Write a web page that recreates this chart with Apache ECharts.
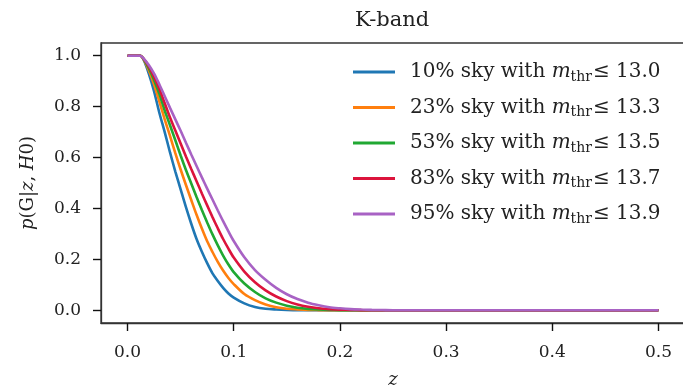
<!DOCTYPE html>
<html>
<head>
<meta charset="utf-8">
<script src="https://cdn.jsdelivr.net/npm/echarts@6/dist/echarts.min.js"></script>
<style>
  html, body { margin: 0; padding: 0; background: #fff; }
  #chart { width: 683px; height: 389px; }
</style>
</head>
<body>
<div id="chart"></div>
<script>
// redshift grid shared by all curves
const zValues = [0, 0.01, 0.012, 0.015, 0.02, 0.025, 0.03, 0.035, 0.04, 0.045, 0.05, 0.055, 0.06, 0.065, 0.07, 0.075, 0.08, 0.085, 0.09, 0.095, 0.1,
  0.11, 0.12, 0.13, 0.14, 0.15, 0.16, 0.17, 0.18, 0.19, 0.2, 0.21, 0.22, 0.23, 0.24, 0.25, 0.5]

// p(G|z,H0), one list per sky fraction
const p10 = [1, 1, 1, 0.985, 0.93, 0.86, 0.775, 0.70, 0.62, 0.545, 0.475, 0.405, 0.34, 0.28, 0.23, 0.185, 0.145, 0.115, 0.088, 0.066, 0.05,
  0.027, 0.013, 0.006, 0.003, 0.001, 0, 0, 0, 0, 0, 0, 0, 0, 0, 0, 0]
const p23 = [1, 1, 1, 0.987, 0.943, 0.887, 0.82, 0.75, 0.685, 0.617, 0.553, 0.492, 0.433, 0.375, 0.321, 0.271, 0.229, 0.19, 0.156, 0.127, 0.103,
  0.064, 0.04, 0.023, 0.012, 0.006, 0.0035, 0.0016, 0.0007, 0, 0, 0, 0, 0, 0, 0, 0]
const p53 = [1, 1, 1, 0.988, 0.951, 0.904, 0.849, 0.785, 0.727, 0.668, 0.608, 0.551, 0.498, 0.445, 0.394, 0.345, 0.298, 0.255, 0.215, 0.18, 0.15,
  0.105, 0.072, 0.047, 0.03, 0.018, 0.01, 0.0055, 0.003, 0.0015, 0.0007, 0, 0, 0, 0, 0, 0]
const p83 = [1, 1, 1, 0.989, 0.958, 0.917, 0.869, 0.813, 0.757, 0.706, 0.655, 0.604, 0.555, 0.507, 0.459, 0.412, 0.366, 0.322, 0.28, 0.242, 0.207,
  0.152, 0.11, 0.078, 0.054, 0.036, 0.023, 0.014, 0.008, 0.0045, 0.0025, 0.0012, 0.0005, 0, 0, 0, 0]
const p95 = [1, 1, 1, 0.99, 0.964, 0.93, 0.887, 0.841, 0.795, 0.75, 0.705, 0.658, 0.612, 0.567, 0.522, 0.478, 0.435, 0.392, 0.35, 0.31, 0.272,
  0.208, 0.158, 0.12, 0.088, 0.063, 0.044, 0.03, 0.02, 0.012, 0.0077, 0.0045, 0.0028, 0.0016, 0.0008, 0, 0]

const skyFractions = ['10%', '23%', '53%', '83%', '95%']
const magThresholds = ['13.0', '13.3', '13.5', '13.7', '13.9']
const curveValues = [p10, p23, p53, p83, p95]
const colors = ['#1f77b4', '#ff7f0e', '#20a832', '#dc143c', '#a862c4']

const xTicks = [0, 0.1, 0.2, 0.3, 0.4, 0.5]
const yTicks = [0, 0.2, 0.4, 0.6, 0.8, 1.0]

const serif = 'DejaVu Serif'

const chart = echarts.init(document.getElementById('chart'))

const seriesNames = skyFractions.map((f, i) => `${f} sky with m_thr ≤ ${magThresholds[i]}`)

const series = curveValues.map((vals, i) => ({
  name: seriesNames[i],
  type: 'line',
  data: zValues.map((z, j) => [z, vals[j]]),
  symbol: 'none',
  smooth: 0.3,
  lineStyle: { width: 2.6, color: colors[i] },
  itemStyle: { color: colors[i] },
  z: 2 + i
}))

const option = {
  animation: false,
  color: colors,
  title: {
    text: 'K-band',
    left: 355,
    top: 10,
    padding: 0,
    textStyle: { fontFamily: serif, fontSize: 21, fontWeight: 'normal', color: '#222' }
  },
  grid: {
    left: 101,
    top: 43,
    right: -2,
    bottom: 66,
    show: true,
    borderColor: '#333',
    borderWidth: 1.3,
    outerBoundsMode: 'none'
  },
  legend: {
    orient: 'vertical',
    left: 353,
    top: 60,
    padding: 0,
    icon: 'rect',
    itemWidth: 42,
    itemHeight: 2.8,
    itemGap: 11.5,
    selectedMode: false,
    data: seriesNames,
    formatter: name => {
      const i = seriesNames.indexOf(name)
      return `{f|${skyFractions[i]} sky with }{i|m}{s|thr}{a|≤ ${magThresholds[i]}}`
    },
    textStyle: {
      color: '#222',
      fontFamily: serif,
      fontSize: 20,
      lineHeight: 24,
      rich: {
        f: { fontFamily: serif, fontSize: 20, color: '#222', padding: [0, 0, 0, 10] },
        i: { fontFamily: serif, fontSize: 20, fontStyle: 'italic', color: '#222' },
        s: { fontFamily: serif, fontSize: 14, color: '#222', verticalAlign: 'bottom', lineHeight: 22 },
        a: { fontFamily: serif, fontSize: 20, color: '#222', padding: [0, 0, 0, 1] }
      }
    }
  },
  xAxis: {
    type: 'value',
    min: -0.025,
    max: 0.525,
    name: 'z',
    nameLocation: 'middle',
    nameGap: 48,
    nameTextStyle: { fontFamily: serif, fontSize: 18, fontStyle: 'italic', color: '#222' },
    axisLine: { show: true, onZero: false, lineStyle: { color: '#333', width: 1.3 } },
    axisTick: { show: true, length: 8, customValues: xTicks, lineStyle: { color: '#111', width: 1.4 } },
    axisLabel: {
      customValues: xTicks,
      margin: 21,
      formatter: v => v.toFixed(1),
      fontFamily: serif,
      fontSize: 17,
      color: '#222'
    },
    splitLine: { show: false }
  },
  yAxis: {
    type: 'value',
    min: -0.05,
    max: 1.05,
    name: '{i|p}{r|(G|}{i|z}{r|, }{i|H}{r|0)}',
    nameLocation: 'middle',
    nameRotate: 90,
    nameGap: 64,
    nameTextStyle: {
      fontFamily: serif,
      fontSize: 18,
      color: '#222',
      rich: {
        i: { fontFamily: serif, fontSize: 18, fontStyle: 'italic', color: '#222' },
        r: { fontFamily: serif, fontSize: 18, color: '#222' }
      }
    },
    axisLine: { show: true, onZero: false, lineStyle: { color: '#333', width: 1.3 } },
    axisTick: { show: true, length: 8, customValues: yTicks, lineStyle: { color: '#111', width: 1.4 } },
    axisLabel: {
      customValues: yTicks,
      margin: 20,
      formatter: v => v.toFixed(1),
      fontFamily: serif,
      fontSize: 17,
      color: '#222'
    },
    splitLine: { show: false }
  },
  series
}

chart.setOption(option)
</script>
</body>
</html>
